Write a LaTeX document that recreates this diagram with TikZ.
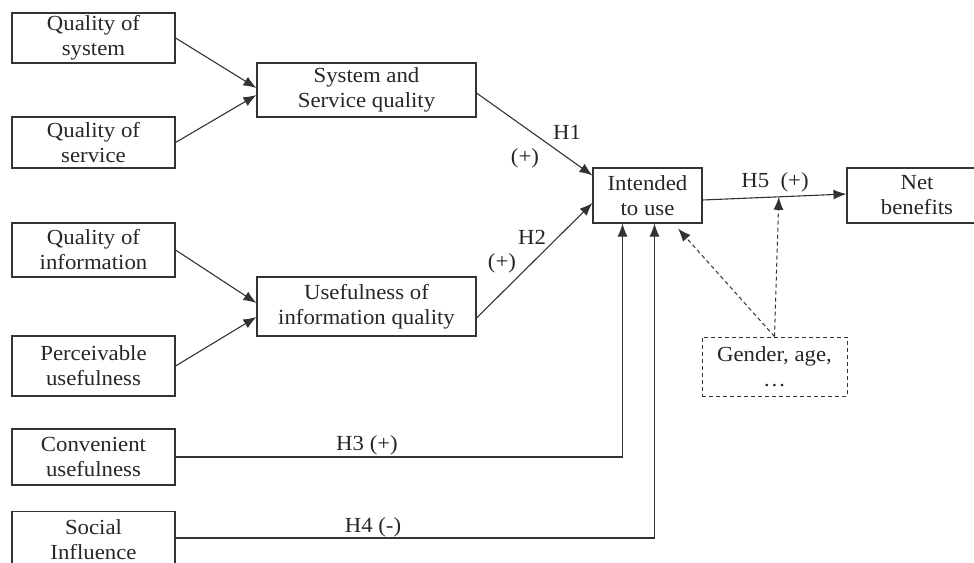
\documentclass[tikz,border=0pt]{standalone}
\usepackage{fontspec}
\setmainfont{Liberation Serif}[FakeStretch=1.06]
\usetikzlibrary{arrows.meta,calc}
\begin{document}
\begin{tikzpicture}[x=1pt,y=-1pt,
  box/.style={draw=black!80, line width=1.1pt, align=center, inner sep=0pt,
    font=\fontsize{21.5}{25}\selectfont, text=black!85},
  arr/.style={draw=black!80, line width=1.1pt, -{Latex[length=13pt,width=10pt]}},
  darr/.style={draw=black!80, line width=1pt, dash pattern=on 4pt off 3pt, -{Latex[length=13pt,width=10pt]}},
  lbl/.style={font=\fontsize{21.5}{25}\selectfont, inner sep=0pt, text=black!85}]
\useasboundingbox (0,0) rectangle (974,562);
% left boxes
\node[box, minimum width=163pt, minimum height=50pt] (qsys) at (93.5,38) {Quality of\\system};
\node[box, minimum width=163pt, minimum height=51pt] (qsvc) at (93.5,142.5) {Quality of\\service};
\node[box, minimum width=163pt, minimum height=54pt] (qinfo) at (93.5,250) {Quality of\\information};
\node[box, minimum width=163pt, minimum height=60pt] (pu) at (93.5,366) {Perceivable\\usefulness};
\node[box, minimum width=163pt, minimum height=56pt] (cu) at (93.5,457) {Convenient\\usefulness};
\node[box, minimum width=163pt, minimum height=56pt] (si) at (93.5,539.5) {Social\\Influence};
% middle boxes
\node[box, minimum width=219pt, minimum height=54pt] (ssq) at (366.5,90) {System and\\Service quality};
\node[box, minimum width=219pt, minimum height=59pt] (uiq) at (366.5,306.5) {Usefulness of\\information quality};
% right boxes
\node[box, minimum width=109pt, minimum height=55pt] (itu) at (647.5,195.5) {Intended\\to use};
\node[box, minimum width=140pt, minimum height=55pt] (net) at (917,195.5) {Net\\benefits};
\node[box, dash pattern=on 4pt off 3pt, line width=1pt, minimum width=145pt, minimum height=59pt] (gen) at (774.5,366.5) {Gender, age,\\\dots};
% arrows into first-level boxes
\draw[arr] (qsys.east) -- ([yshift=2pt]ssq.west);
\draw[arr] (qsvc.east) -- ([yshift=-5pt]ssq.west);
\draw[arr] (qinfo.east) -- ([yshift=3.5pt]uiq.west);
\draw[arr] (pu.east) -- ([yshift=-10.5pt]uiq.west);
% hypotheses
\draw[arr] ([yshift=-3pt]ssq.east) -- ([yshift=20pt]itu.west);
\draw[arr] ([yshift=-11.5pt]uiq.east) -- ([yshift=-7.5pt]itu.west);
\draw[arr] (cu.east) -| ([xshift=-25pt]itu.south);
\draw[arr] ([yshift=1.5pt]si.east) -| ([xshift=7pt]itu.south);
\draw[arr] ([yshift=-4.5pt]itu.east) coordinate (h5a) -- ([yshift=1.5pt]net.west) coordinate (h5b);
% moderators
\coordinate (t1) at ($(itu.south)+(30.5,5)$);
\coordinate (m) at ($(h5a)!0.53!(h5b)$);
\draw[darr] (gen.north) -- (t1);
\draw[darr] (gen.north) -- (m);
% labels
\node[lbl] (l1) at (567,132) {H1};
\node[lbl] (l1s) at (525,158) {(+)};
\node[lbl] (l2) at (532,237) {H2};
\node[lbl] (l2s) at (502,263) {(+)};
\node[lbl] (l3) at (367,445) {H3 (+)};
\node[lbl] (l4) at (373,527) {H4 (-)};
\node[lbl] (l5) at (775,182) {H5\ \ (+)};
\end{tikzpicture}
\end{document}
